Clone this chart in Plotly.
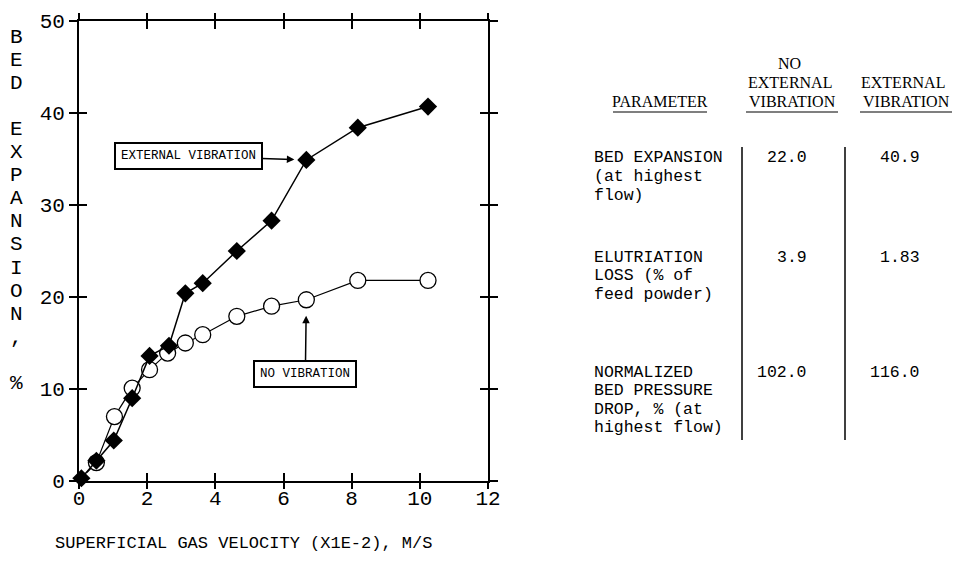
import plotly.graph_objects as go

# ---- data ----
x_ext = [0.07, 0.51, 1.02, 1.56, 2.07, 2.64, 3.12, 3.63, 4.63, 5.65, 6.67, 8.18, 10.24]
y_ext = [0.3, 2.2, 4.4, 9.0, 13.6, 14.7, 20.4, 21.5, 25.0, 28.3, 34.9, 38.4, 40.7]

x_novib = [0.07, 0.51, 1.04, 1.56, 2.07, 2.60, 3.12, 3.63, 4.63, 5.65, 6.67, 8.18, 10.24]
y_novib = [0.3, 2.0, 7.0, 10.1, 12.1, 13.9, 15.0, 15.9, 17.9, 19.0, 19.7, 21.8, 21.8]

x_ticks = [0, 2, 4, 6, 8, 10, 12]
y_ticks = [0, 10, 20, 30, 40, 50]

y_title = "BED EXPANSION, %"
x_title = "SUPERFICIAL GAS VELOCITY (X1E-2), M/S"

table_params = [
    ["BED EXPANSION", "(at highest", "flow)"],
    ["ELUTRIATION", "LOSS (% of", "feed powder)"],
    ["NORMALIZED", "BED PRESSURE", "DROP, % (at", "highest flow)"],
]
table_no_ext = ["22.0", "3.9", "102.0"]
table_ext = ["40.9", "1.83", "116.0"]

# ---- layout helpers (pixel -> paper) ----
W, H = 955, 572
PL, PR, PT, PB = 79, 488, 21, 481


def px(p):
    return (p - PL) / (PR - PL)


def py(p):
    return (PB - p) / (PB - PT)


MONO = "Liberation Mono"
SERIF = "Liberation Serif"

fig = go.Figure()

novib_lw = [0] + [1.3] * (len(x_novib) - 1)
fig.add_trace(go.Scatter(
    x=x_novib, y=y_novib, mode="lines+markers",
    line=dict(color="black", width=1.2),
    marker=dict(symbol="circle", size=16, color="white",
                line=dict(color="black", width=novib_lw)),
    showlegend=False, cliponaxis=False,
))
fig.add_trace(go.Scatter(
    x=x_ext, y=y_ext, mode="lines+markers",
    line=dict(color="black", width=1.5),
    marker=dict(symbol="diamond", size=14, color="black"),
    showlegend=False, cliponaxis=False,
))

axis_common = dict(showgrid=False, zeroline=False, showline=True,
                   linecolor="black", linewidth=1.8,
                   tickcolor="black", tickwidth=1.5)

fig.update_layout(
    width=W, height=H,
    margin=dict(l=PL, r=W - PR, t=PT, b=H - PB),
    paper_bgcolor="white", plot_bgcolor="white",
    xaxis=dict(range=[0, 12], tickvals=x_ticks, ticks="outside", ticklen=6,
               mirror="allticks", ticklabelstandoff=-9,
               tickfont=dict(family=MONO, size=21, color="black"),
               **axis_common),
    yaxis=dict(range=[0, 50], tickvals=y_ticks, ticks="outside", ticklen=8,
               mirror="allticks",
               tickfont=dict(family=MONO, size=21, color="black"),
               **axis_common),
    xaxis2=dict(range=[0, 12], tickvals=x_ticks, ticks="inside", ticklen=8,
                mirror="allticks", overlaying="x", showticklabels=False,
                **axis_common),
    yaxis2=dict(range=[0, 50], tickvals=y_ticks, ticks="inside", ticklen=8,
                mirror="allticks", overlaying="y", showticklabels=False,
                **axis_common),
)
# dummy trace to activate the overlay axes
fig.add_trace(go.Scatter(x=[None], y=[None], xaxis="x2", yaxis="y2",
                         showlegend=False, hoverinfo="skip"))

ann = []

# y-axis title (stacked letters)
for i, ch in enumerate(y_title):
    if ch == " ":
        continue
    ann.append(dict(text=ch, xref="paper", yref="paper", x=px(16), y=py(37 + 23.1 * i),
                    xanchor="center", yanchor="middle", showarrow=False,
                    font=dict(family=MONO, size=21, color="black")))

# x-axis title
ann.append(dict(text=x_title, xref="paper", yref="paper",
                x=px(243), y=py(543), xanchor="center", yanchor="middle",
                showarrow=False, font=dict(family=MONO, size=17, color="black")))

# callouts
ann.append(dict(text="EXTERNAL VIBRATION", x=x_ext[10], y=y_ext[10], xref="x", yref="y",
                ax=-118, ay=-4, showarrow=True, arrowhead=2, arrowsize=1, arrowwidth=1.5,
                arrowcolor="black", standoff=12, bordercolor="black", borderwidth=2,
                borderpad=5, bgcolor="white",
                font=dict(family=MONO, size=12.5, color="black")))
ann.append(dict(text="NO VIBRATION", x=x_novib[10], y=y_novib[10], xref="x", yref="y",
                ax=-1, ay=74, showarrow=True, arrowhead=2, arrowsize=1, arrowwidth=1.5,
                arrowcolor="black", standoff=16, bordercolor="black", borderwidth=2,
                borderpad=5, bgcolor="white",
                font=dict(family=MONO, size=12.5, color="black")))

# table headers
hfont = dict(family=SERIF, size=16, color="black")
headers = [("NO", 789, 63), ("EXTERNAL", 790, 82), ("VIBRATION", 792, 101),
           ("EXTERNAL", 903, 82), ("VIBRATION", 906, 101), ("PARAMETER", 660, 101)]
for t, hx, hy in headers:
    ann.append(dict(text=t, xref="paper", yref="paper", x=px(hx), y=py(hy),
                    xanchor="center", yanchor="middle", showarrow=False, font=hfont))

# table body
bfont = dict(family=MONO, size=16.5, color="black")
row_tops = [158, 257, 372]
line_step = 18.5
for r, lines in enumerate(table_params):
    for i, t in enumerate(lines):
        ann.append(dict(text=t, xref="paper", yref="paper", x=px(592),
                        y=py(row_tops[r] + i * line_step),
                        xanchor="left", yanchor="middle", showarrow=False, font=bfont))
    ann.append(dict(text=table_no_ext[r], xref="paper", yref="paper", x=px(809),
                    y=py(row_tops[r]), xanchor="right", yanchor="middle",
                    showarrow=False, font=bfont))
    ann.append(dict(text=table_ext[r], xref="paper", yref="paper", x=px(922),
                    y=py(row_tops[r]), xanchor="right", yanchor="middle",
                    showarrow=False, font=bfont))

fig.update_layout(annotations=ann)

shapes = []
for x0, x1 in [(613, 707), (746, 838), (860, 952)]:
    shapes.append(dict(type="line", xref="paper", yref="paper",
                       x0=px(x0), x1=px(x1), y0=py(112), y1=py(112),
                       line=dict(color="black", width=1.2)))
for vx in [742, 845]:
    shapes.append(dict(type="line", xref="paper", yref="paper",
                       x0=px(vx), x1=px(vx), y0=py(147), y1=py(440),
                       line=dict(color="black", width=1.5)))
fig.update_layout(shapes=shapes)

fig.write_html("out.html")
